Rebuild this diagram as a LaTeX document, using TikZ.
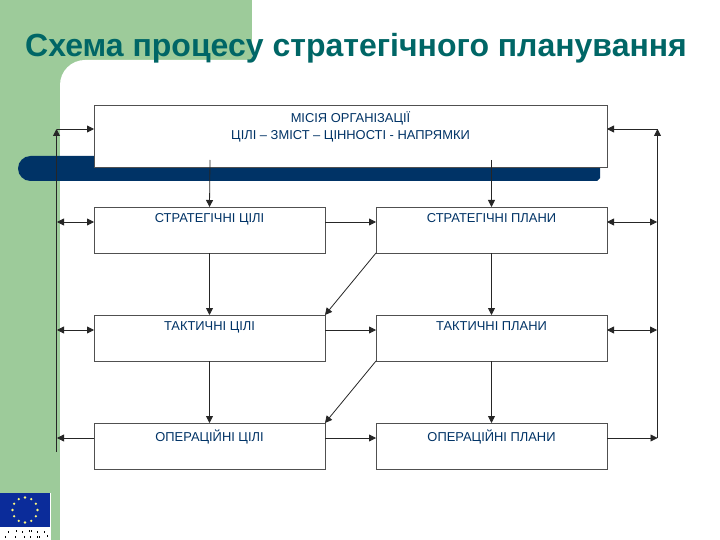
\documentclass[tikz,border=0pt]{standalone}
\usepackage{fontspec}
\setmainfont{Liberation Sans}
\usetikzlibrary{arrows.meta}
\definecolor{bggreen}{HTML}{9DCB9A}
\definecolor{navy}{HTML}{003366}
\definecolor{titlecol}{HTML}{006666}
\definecolor{boxline}{HTML}{505050}
\definecolor{flagblue}{HTML}{0B2C9A}
\tikzset{
  box/.style={draw=boxline,fill=white,line width=0.9pt,minimum width=231pt,minimum height=46pt,inner sep=0pt,outer sep=0pt},
  boxtext/.style={font=\fontsize{12.9}{16.5}\selectfont,text=navy,align=center},
  conn/.style={draw=black!85,line width=0.8pt,-{Triangle[length=7pt,width=7pt]}},
  dconn/.style={draw=black!85,line width=0.8pt,{Triangle[length=7pt,width=7pt]}-{Triangle[length=7pt,width=7pt]}},
}
\begin{document}
\begin{tikzpicture}[x=1pt,y=-1pt]
\useasboundingbox (0,0) rectangle (720,540);
\fill[white] (0,0) rectangle (720,540);
\fill[bggreen] (0,0) rectangle (252,60);
\fill[bggreen] (0,0) rectangle (60,540);
\fill[bggreen] (60,60) rectangle (85,85);
\fill[white] (60,540) -- (60,85) arc[start angle=180,end angle=90,x radius=25,y radius=-25] -- (252,60) -- (252,100) -- (720,100) -- (720,540) -- cycle;
\fill[navy] (30.5,156) -- (597,156) -- (600,156) -- (600,178) -- (597,181) -- (30.5,181) arc[start angle=90,end angle=270,x radius=12.5,y radius=12.5] -- cycle;
% EU flag
\fill[white] (0,493) rectangle (51,540);
\fill[flagblue] (0,493) rectangle (50,527);
\foreach \a in {0,30,...,330}
  \fill[yellow!50!white] ({25+12.5*cos(\a)},{510+12.5*sin(\a)}) circle[radius=1.3];
\foreach \x/\y in {8/531,16/530,22/531,29/530,31/530,37/531,44/531,5/536,15/536,24/536,30/536,37/536,39/536,47/535}
  \fill[black] (\x,\y) rectangle ++(1,2);
\node[anchor=base west,inner sep=0pt,font=\bfseries\fontsize{32}{36}\selectfont,text=titlecol] (title) at (25,57) {Схема процесу стратегічного планування};
\node[box,minimum width=513pt,minimum height=62pt,anchor=north west] (m) at (94,105) {};
\node[boxtext,anchor=north] (mt) at (350.5,108.5) {МІСІЯ ОРГАНІЗАЦІЇ\\ЦІЛІ – ЗМІСТ – ЦІННОСТІ - НАПРЯМКИ};
\node[box,anchor=north west] (g1) at (94,207) {};
\node[box,anchor=north west] (p1) at (376,207) {};
\node[box,anchor=north west] (g2) at (94,315) {};
\node[box,anchor=north west] (p2) at (376,315) {};
\node[box,anchor=north west] (g3) at (94,423) {};
\node[box,anchor=north west] (p3) at (376,423) {};
\node[boxtext,anchor=north] (g1t) at (g1.north) [yshift=-3pt] {СТРАТЕГІЧНІ ЦІЛІ};
\node[boxtext,anchor=north] (p1t) at (p1.north) [yshift=-3pt] {СТРАТЕГІЧНІ ПЛАНИ};
\node[boxtext,anchor=north] (g2t) at (g2.north) [yshift=-3pt] {ТАКТИЧНІ ЦІЛІ};
\node[boxtext,anchor=north] (p2t) at (p2.north) [yshift=-3pt] {ТАКТИЧНІ ПЛАНИ};
\node[boxtext,anchor=north] (g3t) at (g3.north) [yshift=-3pt] {ОПЕРАЦІЙНІ ЦІЛІ};
\node[boxtext,anchor=north] (p3t) at (p3.north) [yshift=-3pt] {ОПЕРАЦІЙНІ ПЛАНИ};
% rails
\coordinate (ltop) at (56.5,129);
\coordinate (lbot) at (56.5,452);
\coordinate (rtop) at (657.5,129);
\coordinate (rbot) at (657.5,438);
\coordinate (l1) at (57,222);
\coordinate (l2) at (57,330);
\coordinate (l3) at (57,438);
\coordinate (r1) at (657,222);
\coordinate (r2) at (657,330);
\coordinate (m1) at (210,160);
\coordinate (m2) at (491.5,160);
% vertical
\draw[conn] (m1) -- (g1.north);
\draw[conn] (m2) -- (p1.north);
\draw[conn] (g1) -- (g2);
\draw[conn] (g2) -- (g3);
\draw[conn] (p1) -- (p2);
\draw[conn] (p2) -- (p3);
% horizontal
\draw[conn] (g1.east |- l1) -- (p1.west |- l1);
\draw[conn] (g2.east |- l2) -- (p2.west |- l2);
\draw[conn] (g3.east |- l3) -- (p3.west |- l3);
% diagonals
\draw[conn] (p1.south west) -- (g2.north east);
\draw[conn] (p2.south west) -- (g3.north east);
% left
\draw[conn] (lbot) -- (ltop);
\draw[conn] (ltop) -- (m.west |- ltop);
\draw[dconn] (l1) -- (g1.west |- l1);
\draw[dconn] (l2) -- (g2.west |- l2);
\draw[conn] (g3.west |- l3) -- (l3);
% right
\draw[conn] (rbot) -- (rtop);
\draw[conn] (rtop) -- (m.east |- rtop);
\draw[dconn] (r1) -- (p1.east |- r1);
\draw[dconn] (r2) -- (p2.east |- r2);
\draw[conn] (p3.east |- rbot) -- (rbot);
\end{tikzpicture}
\end{document}
